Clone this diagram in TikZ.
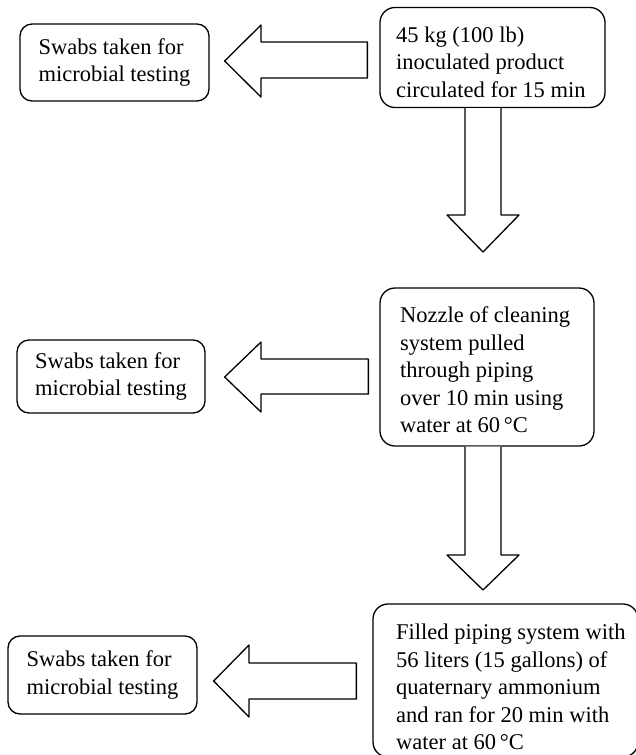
\documentclass[tikz,border=0pt]{standalone}
\usepackage{fontspec}
\setmainfont{Liberation Serif}
\begin{document}
\begin{tikzpicture}[x=1pt,y=-1pt,
  frame/.style={draw, line width=1.3pt, rounded corners=15pt, fill=white, inner sep=0pt},
  swab/.style={draw, line width=1.3pt, rounded corners=12pt, fill=white, inner sep=0pt,
    font=\fontsize{22.5}{27.5}\selectfont, align=left},
  txt/.style={anchor=west, inner sep=0pt, align=left, font=\fontsize{22.5}{27.5}\selectfont},
  blockarrow/.style={draw, line width=1.3pt, fill=white, line join=round}]
\useasboundingbox (0,0) rectangle (636,755);
\clip (0,0) rectangle (636,755);

% process boxes
\node[frame, minimum width=225pt, minimum height=100pt] (b1) at (492.5,57.5) {};
\node[txt] (t1) at (396,62) {45 kg (100 lb)\\inoculated product\\circulated for 15 min};

\node[frame, minimum width=214pt, minimum height=158pt] (b2) at (487,367) {};
\node[txt] (t2) at (400,370) {Nozzle of cleaning\\system pulled\\through piping\\over 10 min using\\water at 60\,°C};

\node[frame, minimum width=265pt, minimum height=153pt] (b3) at (505.5,680.5) {};
\node[txt] (t3) at (396,687) {Filled piping system with\\56 liters (15 gallons) of\\quaternary ammonium\\and ran for 20 min with\\water at 60\,°C};

% swab boxes
\node[swab, minimum width=189pt, minimum height=77pt] (s1) at (114.5,62.5) {Swabs taken for\\microbial testing};
\node[swab, minimum width=188pt, minimum height=73pt] (s2) at (111,376.5) {Swabs taken for\\microbial testing};
\node[swab, minimum width=189pt, minimum height=78pt] (s3) at (102.5,675) {Swabs taken for\\microbial testing};

% left block arrows (from process box to swab box)
\draw[blockarrow] ([xshift=-12pt]b1.west |- 0,42) -- (261,42) -- (261,25) --
  ([xshift=15pt]s1.east |- 0,61) -- (261,97) -- (261,78) -- ([xshift=-12pt]b1.west |- 0,78) -- cycle;
\draw[blockarrow] ([xshift=-11pt]b2.west |- 0,359) -- (261,359) -- (261,342) --
  ([xshift=19pt]s2.east |- 0,377) -- (261,412) -- (261,394) -- ([xshift=-11pt]b2.west |- 0,394) -- cycle;
\draw[blockarrow] ([xshift=-16pt]b3.west |- 0,663) -- (249,663) -- (249,645) --
  ([xshift=16pt]s3.east |- 0,681) -- (249,717) -- (249,699) -- ([xshift=-16pt]b3.west |- 0,699) -- cycle;

% down block arrows (from box to box)
\draw[blockarrow] (465,0 |- b1.south) -- (465,215) -- (447,215) -- (483,252) --
  (519,215) -- (501,215) -- (501,0 |- b1.south);
\draw[blockarrow] (465,0 |- b2.south) -- (465,555) -- (447,555) -- (483,590) --
  (519,555) -- (501,555) -- (501,0 |- b2.south);
\end{tikzpicture}
\end{document}
